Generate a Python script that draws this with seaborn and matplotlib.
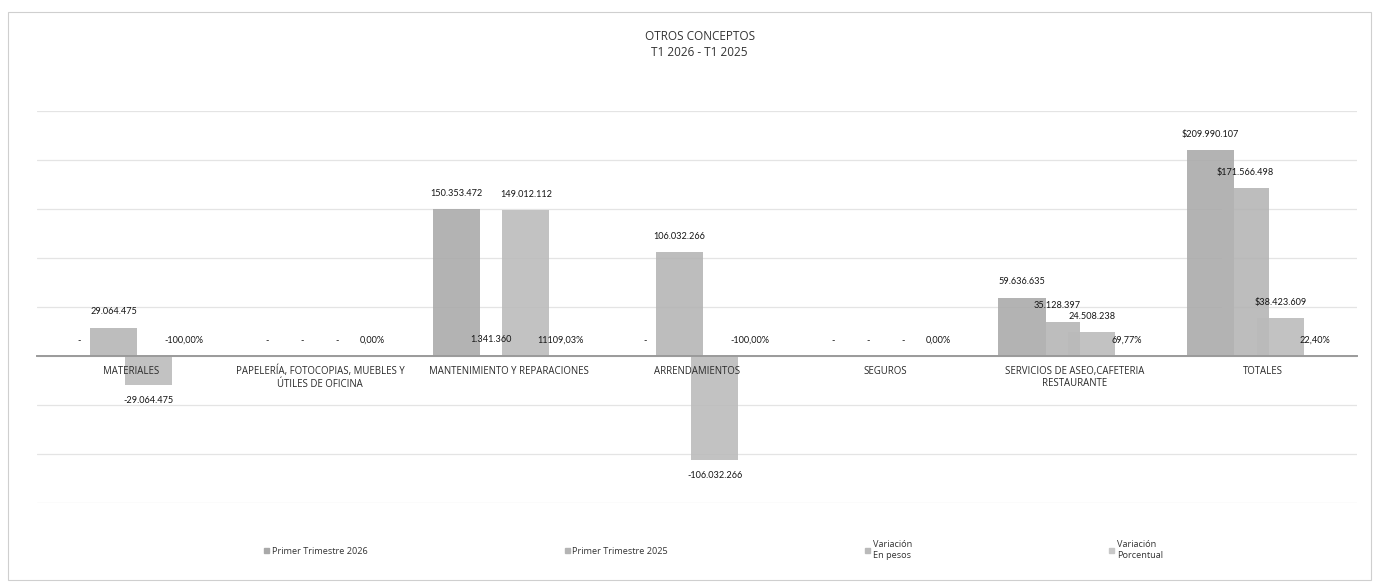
import numpy as np
import pandas as pd
import matplotlib
matplotlib.use("Agg")
import matplotlib.pyplot as plt
import matplotlib.patches as mpatches
import seaborn as sns

# categories and series
categorias = ["MATERIALES",
              "PAPELERÍA, FOTOCOPIAS, MUEBLES Y\nÚTILES DE OFICINA",
              "MANTENIMIENTO Y REPARACIONES",
              "ARRENDAMIENTOS",
              "SEGUROS",
              "SERVICIOS DE ASEO,CAFETERIA\nRESTAURANTE",
              "TOTALES"]
series = ["Primer Trimestre 2026", "Primer Trimestre 2025",
          "Variación En pesos", "Variación Porcentual"]
leyenda = ["Primer Trimestre 2026", "Primer Trimestre 2025",
           "Variación\nEn pesos", "Variación\nPorcentual"]

t1_2026 = [0, 0, 150353472, 0, 0, 59636635, 209990107]
t1_2025 = [29064475, 0, 1341360, 106032266, 0, 35128397, 171566498]
var_pesos = [-29064475, 0, 149012112, -106032266, 0, 24508238, 38423609]
var_pct = [-1.0, 0.0, 111.0903, -1.0, 0.0, 0.6977, 0.2240]

colores = ["#a9a9a9", "#b4b4b4", "#bababa", "#c8c8c8"]

df = pd.DataFrame({
    "categoria": categorias * 4,
    "serie": np.repeat(series, len(categorias)),
    "valor": t1_2026 + t1_2025 + var_pesos + var_pct,
})


def fmt_pesos(v, cat):
    if v == 0:
        return "-"
    s = f"{v:,.0f}".replace(",", ".")
    if cat == "TOTALES":
        s = "$" + s
    return s


def fmt_pct(v):
    return f"{v * 100:.2f}%".replace(".", ",")


sns.set_theme(style="white")
plt.rcParams["font.family"] = ["Open Sans", "DejaVu Sans"]

fig, ax = plt.subplots(figsize=(13.8, 5.87), dpi=100)
fig.subplots_adjust(left=0.0268, right=0.9835, top=0.811, bottom=0.143)

sns.barplot(data=df, x="categoria", y="valor", hue="serie",
            order=categorias, hue_order=series, palette=colores,
            saturation=1, errorbar=None, width=0.74, gap=-0.35,
            alpha=0.88, linewidth=0, edgecolor="none", ax=ax, legend=False)

ax.set_ylim(-150e6, 250e6)
ax.set_yticks(np.arange(-150e6, 250e6 + 1, 50e6))
ax.set_yticklabels([])
ax.yaxis.grid(True, color="#e4e4e4", linewidth=0.9)
ax.set_axisbelow(True)
ax.xaxis.set_zorder(3)
ax.set_xlabel("")
ax.set_ylabel("")
for s in ["top", "left", "right"]:
    ax.spines[s].set_visible(False)
ax.spines["bottom"].set_position(("data", 0))
ax.spines["bottom"].set_color("#9a9a9a")
ax.spines["bottom"].set_linewidth(1.4)
ax.tick_params(axis="x", length=0, pad=7, labelsize=6.9, labelcolor="#2a2a2a")
ax.tick_params(axis="y", length=0)
ax.set_xlim(-0.5, len(categorias) - 0.5)

# data labels
vals = [t1_2026, t1_2025, var_pesos]
for i, cont in enumerate(ax.containers[:3]):
    labs = [fmt_pesos(v, c) for v, c in zip(vals[i], categorias)]
    ax.bar_label(cont, labels=labs, padding=8, fontsize=6.6,
                 color="#151515", family=["Lato", "DejaVu Sans"])
for bar, v in zip(ax.containers[3], var_pct):
    ax.annotate(fmt_pct(v), (bar.get_x() + bar.get_width() / 2, 0),
                xytext=(0, 8), textcoords="offset points",
                ha="center", va="bottom", fontsize=6.6, color="#151515",
                family=["Lato", "DejaVu Sans"])

fig.text(0.507, 0.924, "OTROS CONCEPTOS\nT1 2026 - T1 2025", ha="center",
         va="center", fontsize=8.5, color="#333333", linespacing=1.3)

handles = [mpatches.Patch(color=c) for c in colores]
fig.legend(handles, leyenda, loc="center", bbox_to_anchor=(0.517, 0.063),
           ncol=4, frameon=False, fontsize=6.6, handlelength=0.55,
           handleheight=0.55, handletextpad=0.3, columnspacing=21.5,
           labelcolor="#333333")

fig.patches.append(mpatches.Rectangle((0.0058, 0.012), 0.988, 0.9676,
                                      transform=fig.transFigure, fill=False,
                                      edgecolor="#cfcfcf", linewidth=0.8))

fig.savefig("out.png", dpi=100, facecolor="white")
